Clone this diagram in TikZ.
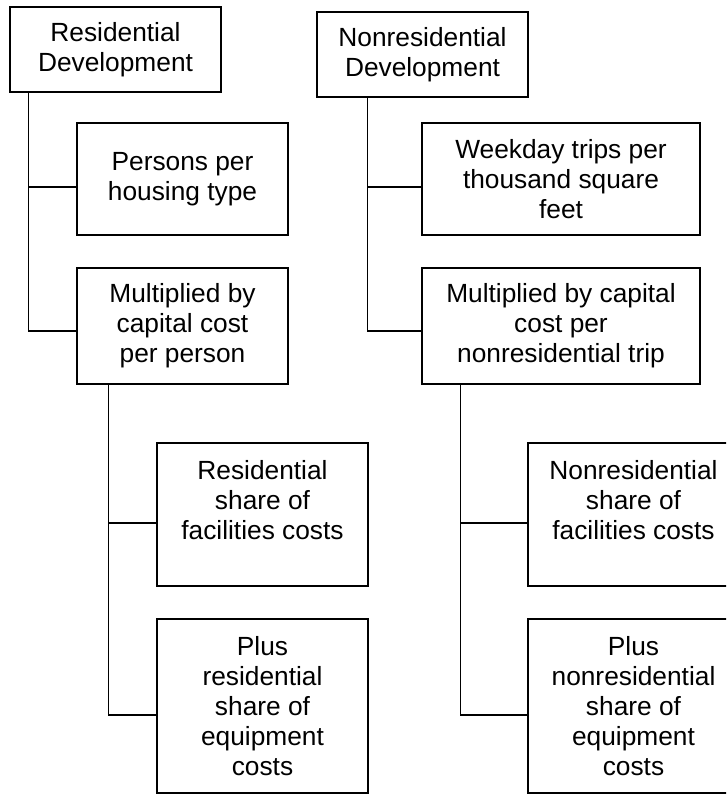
\documentclass[tikz,border=0pt]{standalone}
\usepackage{fontspec}
\setmainfont{Liberation Sans}
\usepackage{tikz}
\usetikzlibrary{positioning}

\begin{document}
\begin{tikzpicture}[x=1pt, y=-1pt,
  stage/.style={draw, line width=1.4pt, inner sep=0pt, align=center,
                font=\fontsize{26.3pt}{30pt}\selectfont,
                minimum width=211pt, minimum height=#1},
  stage/.default=112pt,
  wide/.style={minimum width=278pt},
  link/.style={line width=1.4pt},
]
\useasboundingbox (0,0) rectangle (726,794);
\clip (0,0) rectangle (726,794);

% Residential branch
\node[stage=85pt] (rd) at (115.5, 49.5) {Residential\\Development};
\node[stage] (pp) at (182.5, 179) {Persons per\\housing type};
\node[stage=116pt] (mc) at (182.5, 326) {Multiplied by\\capital cost\\per person};
\node[stage=143pt] (rs) at (262.5, 514.5) {Residential\\share of\\facilities costs\\~};
\node[stage=174pt] (re) at (262.5, 706)
  {Plus\\residential\\share of\\equipment\\costs};

\draw[link] ([xshift=19pt]rd.south west) |- ([yshift=-8pt]pp.west);
\draw[link] ([xshift=19pt]rd.south west) |- ([yshift=-5pt]mc.west);
\draw[link] ([xshift=32pt]mc.south west) |- ([yshift=-8.5pt]rs.west);
\draw[link] ([xshift=32pt]mc.south west) |- ([yshift=-9pt]re.west);

% Nonresidential branch
\node[stage=85pt] (nd) at (422.5, 54.5) {Nonresidential\\Development};
\node[stage, wide] (wt) at (561, 179) {Weekday trips per\\thousand square\\feet};
\node[stage=116pt, wide] (nc) at (561, 326)
  {Multiplied by capital\\cost per\\nonresidential trip};
\node[stage=143pt] (ns) at (633.5, 514.5) {Nonresidential\\share of\\facilities costs\\~};
\node[stage=174pt] (ne) at (633.5, 706)
  {Plus\\nonresidential\\share of\\equipment\\costs};

\draw[link] ([xshift=51pt]nd.south west) |- ([yshift=-8pt]wt.west);
\draw[link] ([xshift=51pt]nd.south west) |- ([yshift=-5pt]nc.west);
\draw[link] ([xshift=39pt]nc.south west) |- ([yshift=-8.5pt]ns.west);
\draw[link] ([xshift=39pt]nc.south west) |- ([yshift=-9pt]ne.west);
\end{tikzpicture}
\end{document}
